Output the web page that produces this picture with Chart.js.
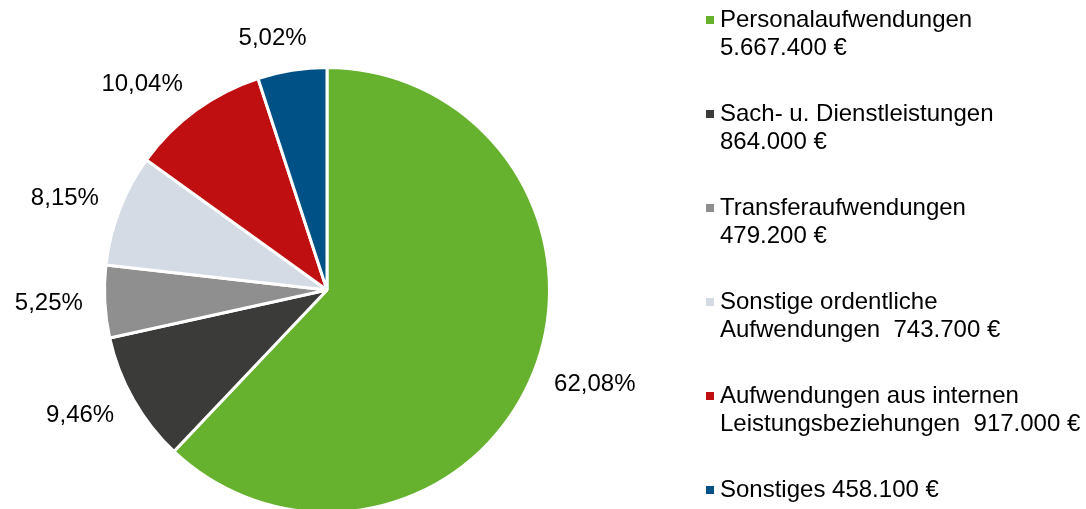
<html>
  <head>
    <script src="https://cdn.jsdelivr.net/npm/chart.js"></script>
    <style>
      body { margin: 0; overflow: hidden; background: #fff; }
      #wrap { position: relative; width: 1086px; height: 540px; }
    </style>
  </head>
  <body>
  <div id="wrap">
    <canvas id="myChart"></canvas>
  </div>
    <script>
// Daten
const categories = ['Personalaufwendungen', 'Sach- u. Dienstleistungen', 'Transferaufwendungen',
  'Sonstige ordentliche Aufwendungen', 'Aufwendungen aus internen Leistungsbeziehungen', 'Sonstiges'];
const values = [5667400, 864000, 479200, 743700, 917000, 458100];
// Legendentext (Zeilen), Betrag wird unten angehängt
const legendLines = [
  ['Personalaufwendungen', '{v}'],
  ['Sach- u. Dienstleistungen', '{v}'],
  ['Transferaufwendungen', '{v}'],
  ['Sonstige ordentliche', 'Aufwendungen  {v}'],
  ['Aufwendungen aus internen', 'Leistungsbeziehungen  {v}'],
  ['Sonstiges {v}']
];
const colors = ['#66b22f', '#3b3b3a', '#8f8f8f', '#d4dbe5', '#c00f10', '#005286'];

const FONT = '24px "Liberation Sans", Arial, sans-serif';

function euro(v) {
  return String(v).replace(/\B(?=(\d{3})+(?!\d))/g, '.') + ' €';
}
function pct(v, total) {
  return (v / total * 100).toFixed(2).replace('.', ',') + '%';
}

// Prozentwerte außen an den Segmenten
const pieLabels = {
  id: 'pieLabels',
  afterDatasetsDraw(chart) {
    const ctx = chart.ctx;
    const arcs = chart.getDatasetMeta(0).data;
    const total = values.reduce((a, b) => a + b, 0);
    ctx.save();
    ctx.font = FONT;
    ctx.fillStyle = '#000';
    ctx.textAlign = 'center';
    ctx.textBaseline = 'middle';
    arcs.forEach((arc, i) => {
      const p = arc.getProps(['x', 'y', 'startAngle', 'endAngle', 'outerRadius'], true);
      const mid = (p.startAngle + p.endAngle) / 2;
      const dx = Math.cos(mid), dy = Math.sin(mid);
      const r = p.outerRadius + 22;
      const txt = pct(values[i], total);
      const w = ctx.measureText(txt).width, h = 20;
      const kx = Math.max(-1, Math.min(1, dx * 3));
      const x = p.x + dx * r + kx * w / 2;
      const y = p.y + dy * r + dy * h / 2;
      ctx.fillText(txt, x, y);
    });
    ctx.restore();
  }
};

// Legende rechts
const sideLegend = {
  id: 'sideLegend',
  afterDraw(chart) {
    const ctx = chart.ctx;
    ctx.save();
    ctx.font = FONT;
    ctx.textBaseline = 'alphabetic';
    ctx.textAlign = 'left';
    legendLines.forEach((lines, i) => {
      const base = 27 + i * 94;
      ctx.fillStyle = colors[i];
      ctx.fillRect(706, base - 11, 8, 8);
      ctx.fillStyle = '#000';
      lines.forEach((l, j) => {
        ctx.fillText(l.replace('{v}', euro(values[i])), 720, base + j * 27.5);
      });
    });
    ctx.restore();
  }
};

const data = {
  labels: categories,
  datasets: [{
    data: values,
    backgroundColor: colors,
    borderColor: '#ffffff',
    borderWidth: 3
  }]
};

const config = {
  type: 'pie',
  data: data,
  options: {
    responsive: true,
    maintainAspectRatio: false,
    animation: false,
    events: [],
    layout: { padding: { top: 66, bottom: 26, left: 103, right: 535 } },
    plugins: {
      legend: { display: false },
      tooltip: { enabled: false }
    }
  },
  plugins: [pieLabels, sideLegend]
};

new Chart(document.getElementById('myChart'), config);
    </script>
  </body>
</html>
